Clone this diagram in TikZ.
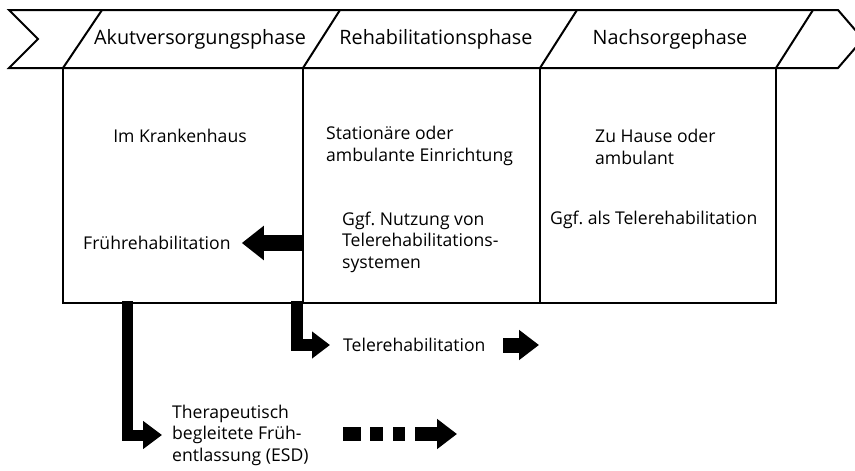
\documentclass[tikz,border=0pt]{standalone}
\usepackage{fontspec}
\setmainfont{Open Sans}
\usetikzlibrary{arrows.meta}
\frenchspacing
\begin{document}
\begin{tikzpicture}[x=1pt,y=-1pt,
  outline/.style={line width=2pt, line join=miter},
  phasetext/.style={inner sep=0pt, font=\fontsize{19.8}{22}\selectfont},
  boxtext/.style={inner sep=0pt, align=left, font=\fontsize{17.6}{21.5}\selectfont},
  phasebox/.style={draw, line width=2pt, inner sep=0pt},
  fatarrow/.style={line width=#1, line join=miter},
]
\useasboundingbox (0,0) rectangle (855,471);
% banner
\draw[outline] (9,10) -- (838,10) -- (863,39) -- (838,68) -- (9,68) -- (38,39) -- cycle;
\draw[outline] (102,10) -- (63,68);
\draw[outline] (340,10) -- (303,68);
\draw[outline] (577,10) -- (540,68);
\draw[outline] (813,10) -- (776,68);
\node[phasetext] (p1) at (200,39) {Akutversorgungsphase};
\node[phasetext] (p2) at (436,39) {Rehabilitationsphase};
\node[phasetext] (p3) at (670,39) {Nachsorgephase};
% boxes
\node[phasebox, minimum width=240pt, minimum height=235pt] (b1) at (183,185.5) {};
\node[phasebox, minimum width=237pt, minimum height=235pt] (b2) at (421.5,185.5) {};
\node[phasebox, minimum width=236pt, minimum height=235pt] (b3) at (658,185.5) {};
% texts
\node[boxtext] (t1) at (180,136) {Im Krankenhaus};
\node[boxtext, anchor=west] (t2) at (83,243) {Frührehabilitation};
\node[boxtext, anchor=west] (t3) at (326,146) {Stationäre oder\\ambulante Einrichtung};
\node[boxtext, anchor=west] (t4) at (342,242) {Ggf. Nutzung von\\Telerehabilitations-\\systemen};
\node[boxtext, anchor=west] (t5) at (595,147) {Zu Hause oder\\ambulant};
\node[boxtext, anchor=west] (t6) at (550,220) {Ggf. als Telerehabilitation};
\node[boxtext, anchor=west] (t7) at (343,345) {Telerehabilitation};
\node[boxtext, anchor=west] (t8) at (172,435) {Therapeutisch\\begleitete Früh-\\entlassung (ESD)};
% connectors
\coordinate (a1s) at (b2.west |- t2.east);
\draw[fatarrow=16pt, -{Triangle[length=22pt,width=33pt]}] (a1s) -- ([xshift=11pt]t2.east);
\coordinate (a2s) at (127,301);
\draw[fatarrow=11pt, -{Triangle[length=19pt,width=27pt]}] (a2s) |- ([xshift=-10pt]t8.west);
\coordinate (a3s) at (297,301);
\draw[fatarrow=12pt, -{Triangle[length=18pt,width=26pt]}] (a3s) |- ([xshift=-13pt]t7.west);
\coordinate (a4s) at (503,345);
\coordinate (a4e) at (539,345);
\draw[fatarrow=15pt, -{Triangle[length=20pt,width=29pt]}] (a4s) -- (a4e);
% dashed arrow
\fill (343,427) rectangle (361,441);
\fill (370,427) rectangle (383,441);
\fill (393,427) rectangle (405,441);
\coordinate (a5s) at (415,434);
\coordinate (a5e) at (457,434);
\draw[fatarrow=14pt, -{Triangle[length=20pt,width=29pt]}] (a5s) -- (a5e);
\end{tikzpicture}
\end{document}
